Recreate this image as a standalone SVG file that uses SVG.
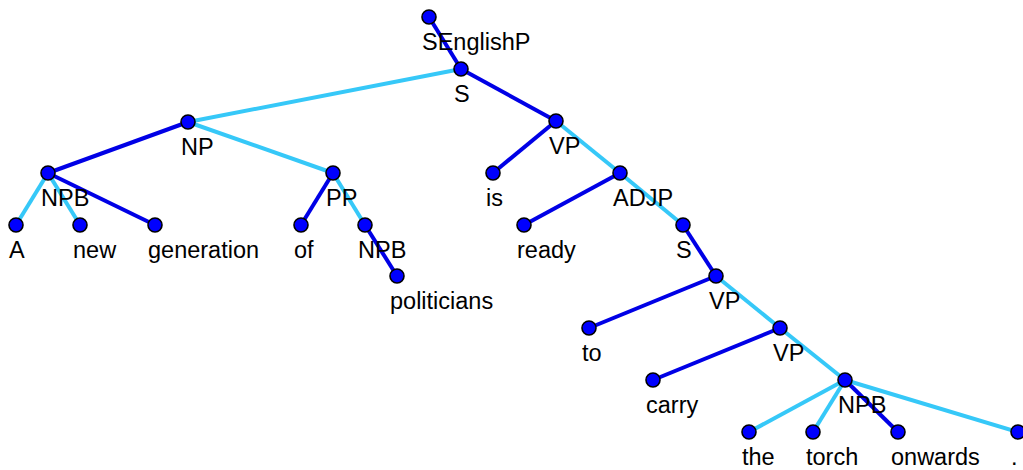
<svg xmlns="http://www.w3.org/2000/svg" width="1023" height="470" viewBox="0 0 1023 470">
  <style>
    .bg { fill: #ffffff; }
    .e { stroke-width: 4; stroke-linecap: butt; fill: none; }
    .d { stroke: #0000e6; }
    .l { stroke: #36c8f8; }
    .n circle { fill: #0000ff; stroke: #000000; stroke-width: 1.6; }
    .n text { font-family: "Liberation Sans", Arial, sans-serif; font-size: 23.5px; fill: #000000; }
  </style>
  <rect class="bg" x="0" y="0" width="1023" height="470"/>

  <!-- tree edges: dark = head child, light = other child -->
  <g id="connectors">
    <line class="e d" x1="429" y1="17" x2="461" y2="69"/>
    <line class="e l" x1="461" y1="69" x2="188" y2="122"/>
    <line class="e d" x1="461" y1="69" x2="556" y2="121"/>
    <line class="e d" x1="188" y1="122" x2="48" y2="173"/>
    <line class="e l" x1="188" y1="122" x2="333" y2="173"/>
    <line class="e l" x1="48" y1="173" x2="16" y2="225"/>
    <line class="e l" x1="48" y1="173" x2="80" y2="225"/>
    <line class="e d" x1="48" y1="173" x2="155" y2="225"/>
    <line class="e d" x1="333" y1="173" x2="301" y2="225"/>
    <line class="e l" x1="333" y1="173" x2="365" y2="225"/>
    <line class="e d" x1="365" y1="225" x2="397" y2="276"/>
    <line class="e d" x1="556" y1="121" x2="493" y2="173"/>
    <line class="e l" x1="556" y1="121" x2="620" y2="173"/>
    <line class="e d" x1="620" y1="173" x2="524" y2="225"/>
    <line class="e l" x1="620" y1="173" x2="683" y2="225"/>
    <line class="e d" x1="683" y1="225" x2="716" y2="276"/>
    <line class="e d" x1="716" y1="276" x2="589" y2="328"/>
    <line class="e l" x1="716" y1="276" x2="780" y2="328"/>
    <line class="e d" x1="780" y1="328" x2="653" y2="380"/>
    <line class="e l" x1="780" y1="328" x2="845" y2="380"/>
    <line class="e l" x1="845" y1="380" x2="749" y2="432"/>
    <line class="e l" x1="845" y1="380" x2="813" y2="432"/>
    <line class="e d" x1="845" y1="380" x2="898" y2="432"/>
    <line class="e l" x1="845" y1="380" x2="1018" y2="432"/>
  </g>

  <!-- nodes: dot plus label below-right -->
  <g id="n-SEnglishP" class="n"><circle cx="429" cy="17" r="7"/><text x="422" y="50">SEnglishP</text></g>
  <g id="n-S" class="n"><circle cx="461" cy="69" r="7"/><text x="454" y="102">S</text></g>
  <g id="n-NP" class="n"><circle cx="188" cy="122" r="7"/><text x="181" y="155">NP</text></g>
  <g id="n-VP" class="n"><circle cx="556" cy="121" r="7"/><text x="549" y="154">VP</text></g>
  <g id="n-NPB" class="n"><circle cx="48" cy="173" r="7"/><text x="41" y="206">NPB</text></g>
  <g id="n-PP" class="n"><circle cx="333" cy="173" r="7"/><text x="326" y="206">PP</text></g>
  <g id="n-is" class="n"><circle cx="493" cy="173" r="7"/><text x="486" y="206">is</text></g>
  <g id="n-ADJP" class="n"><circle cx="620" cy="173" r="7"/><text x="613" y="206">ADJP</text></g>
  <g id="n-A" class="n"><circle cx="16" cy="225" r="7"/><text x="9" y="258">A</text></g>
  <g id="n-new" class="n"><circle cx="80" cy="225" r="7"/><text x="73" y="258">new</text></g>
  <g id="n-generation" class="n"><circle cx="155" cy="225" r="7"/><text x="148" y="258">generation</text></g>
  <g id="n-of" class="n"><circle cx="301" cy="225" r="7"/><text x="294" y="258">of</text></g>
  <g id="n-NPB2" class="n"><circle cx="365" cy="225" r="7"/><text x="358" y="258">NPB</text></g>
  <g id="n-ready" class="n"><circle cx="524" cy="225" r="7"/><text x="517" y="258">ready</text></g>
  <g id="n-S2" class="n"><circle cx="683" cy="225" r="7"/><text x="676" y="258">S</text></g>
  <g id="n-politicians" class="n"><circle cx="397" cy="276" r="7"/><text x="390" y="309">politicians</text></g>
  <g id="n-VP2" class="n"><circle cx="716" cy="276" r="7"/><text x="709" y="309">VP</text></g>
  <g id="n-to" class="n"><circle cx="589" cy="328" r="7"/><text x="582" y="361">to</text></g>
  <g id="n-VP3" class="n"><circle cx="780" cy="328" r="7"/><text x="773" y="361">VP</text></g>
  <g id="n-carry" class="n"><circle cx="653" cy="380" r="7"/><text x="646" y="413">carry</text></g>
  <g id="n-NPB3" class="n"><circle cx="845" cy="380" r="7"/><text x="838" y="413">NPB</text></g>
  <g id="n-the" class="n"><circle cx="749" cy="432" r="7"/><text x="742" y="465">the</text></g>
  <g id="n-torch" class="n"><circle cx="813" cy="432" r="7"/><text x="806" y="465">torch</text></g>
  <g id="n-onwards" class="n"><circle cx="898" cy="432" r="7"/><text x="891" y="465">onwards</text></g>
  <g id="n-period" class="n"><circle cx="1018" cy="432" r="7"/><text x="1011" y="465">.</text></g>
</svg>
